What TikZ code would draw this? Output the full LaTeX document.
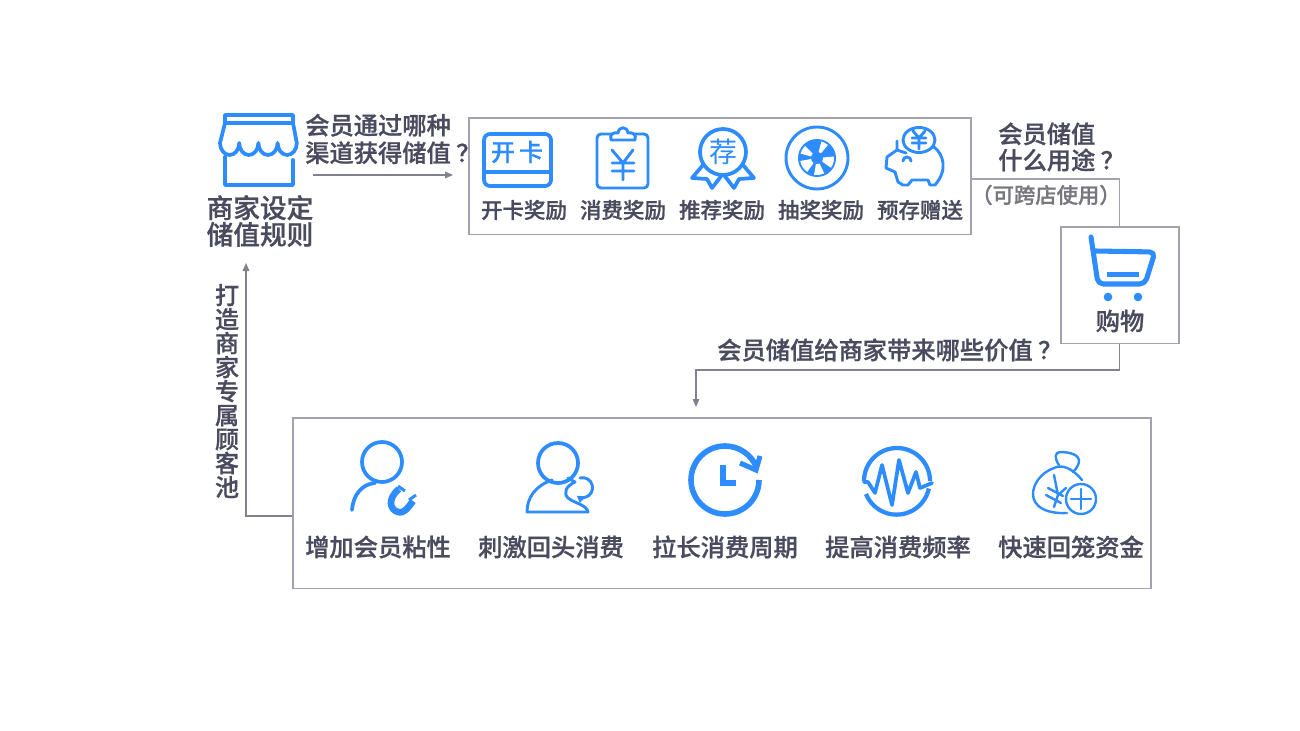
\documentclass[tikz,border=0pt]{standalone}
\usepackage{fontspec}
\setmainfont{Noto Sans CJK SC}[BoldFont={* Medium},BoldFeatures={FakeBold=0.9}]
\usetikzlibrary{arrows.meta}
\definecolor{iconblue}{HTML}{2D8CFF}
\definecolor{labelgrey}{HTML}{4B4B5F}
\definecolor{linegrey}{HTML}{A2A2AE}
\definecolor{notegrey}{HTML}{77777F}
\newcommand{\labelfont}[1]{\fontsize{#1}{#1}\selectfont\bfseries}
\newcommand{\wideq}{\hspace{4pt}\symbol{"FF1F}}
\tikzset{
  framebox/.style={draw=linegrey,line width=1.2pt},
  flow/.style={draw=linegrey,line width=0.9pt},
  flowarrow/.style={flow,draw=labelgrey!70,-{Triangle[length=6pt,width=5pt]}},
  icon/.style={draw=iconblue,line width=2.8pt,line join=round,line cap=round},
  thinicon/.style={icon,line width=2.2pt},
  hairicon/.style={icon,line width=1.8pt},
  smalllabel/.style={text=labelgrey,inner sep=0pt,font=\labelfont{16.1}},
  biglabel/.style={text=labelgrey,inner sep=0pt,font=\labelfont{18.2},align=left}
}
\begin{document}
\begin{tikzpicture}[x=0.75pt,y=-0.75pt]
 \useasboundingbox (0,0) rectangle (1300,731);
 \node (rewardbox) [framebox,minimum width=376.5pt,minimum height=87.5pt,anchor=north west] at (468,117) {};
 \node (cartbox) [framebox,minimum width=88.5pt,minimum height=87.5pt,anchor=north west] at (1060,226) {};
 \node (valuebox) [framebox,minimum width=643.5pt,minimum height=128pt,anchor=north west] at (292,417) {};

 \coordinate (channelstart) at (313,175);
 \coordinate (channelend) at (rewardbox.west |- channelstart);
 \coordinate (usestart) at (rewardbox.east |- 0,179);
 \coordinate (valuetop) at (696,417);
 \coordinate (ruletop) at (246,263);
 \draw [flowarrow] (channelstart) -- ([xshift=-15*0.75pt]channelend);
 \draw [flow] (usestart) -| (cartbox.north);
 \draw [flowarrow] (cartbox.south) |- (696,370) -- ([yshift=7.5pt]valuetop);
 \draw [flowarrow] (valuebox.west |- 0,516) -| (ruletop);

 \node (channeltext) [biglabel,anchor=west] at (305,139) {会员通过哪种\\[2.5pt]渠道获得储值\wideq};
 \node (ruletext) [text=labelgrey,inner sep=0pt,font=\labelfont{20},align=left] at (260,221) {商家设定\\储值规则};
 \node (usetext) [biglabel,anchor=west] at (998,147) {会员储值\\[1.5pt]什么用途\wideq};
 \node (crosstext) [inner sep=0pt,text=notegrey,font=\labelfont{16}] at (1046,195) {\symbol{"FF08}可跨店使用\symbol{"FF09}};
 \node (carttext) [biglabel] at (1120,321) {购物};
 \node (valuetext) [biglabel,anchor=west] at (717,350) {会员储值给商家带来哪些价值\wideq};
 \node (pooltext) [biglabel,align=center,font=\fontsize{18}{18}\selectfont\bfseries] at (227,391) {打\\造\\商\\家\\专\\属\\顾\\客\\池};

 \foreach \name/\xpos/\txt in {card/524/开卡奖励,spend/623/消费奖励,refer/722/推荐奖励,draw/821/抽奖奖励,save/920/预存赠送}
   \node (\name text) [smalllabel] at (\xpos,210) {\txt};
 \foreach \name/\xpos/\txt in {sticky/378/增加会员粘性,return/551/刺激回头消费,cycle/725/拉长消费周期,freq/898/提高消费频率,fund/1071/快速回笼资金}
   \node (\name text) [biglabel] at (\xpos,547) {\txt};

 \draw [icon] (225,115) rectangle (293,123);
 \draw [icon] (225,123) -- (220,143) arc[start angle=180,end angle=0,x radius=9.6,y radius=12]
   arc[start angle=180,end angle=0,x radius=9.6,y radius=12]
   arc[start angle=180,end angle=0,x radius=9.6,y radius=12]
   arc[start angle=180,end angle=0,x radius=9.6,y radius=12] -- (293,123);
 \draw [icon] (225,157) -- (225,185) -- (293,185) -- (293,160);

 \draw [icon,rounded corners=4.5pt] (484,134) rectangle (551,186);
 \draw [icon] (484,172) -- (551,172);
 \node (cardglyph) [text=iconblue,inner sep=0pt,font=\labelfont{18}] at (517,152) {开\hspace{3pt}卡};

 \draw [thinicon,rounded corners=3pt] (611,134) -- (597,134) -- (597,188) -- (648,188) -- (648,134) -- (635,134);
 \draw [thinicon] (611,140) .. controls (609,134) and (614,132) .. (618,133) .. controls (619,126) and (627,126) .. (628,133) .. controls (632,132) and (637,134) .. (635,140) -- cycle;
 \draw [thinicon] (612,150) -- (623,163) -- (633,150) (612,163) -- (634,163) (612,171) -- (634,171) (623,163) -- (623,180);

 \draw [icon] (723,152) circle[radius=23];
 \node (referglyph) [text=iconblue,inner sep=0pt,font=\fontsize{21}{21}\selectfont] at (723,152) {荐};
 \draw [icon] (703,165) -- (692,178) -- (707,179) -- (712,188) -- (722,175);
 \draw [icon] (743,165) -- (754,178) -- (739,179) -- (734,188) -- (724,175);

 \draw [thinicon] (817,158) circle[radius=31];
 \fill [iconblue] (817,158) circle[radius=19];
 \foreach \angstart/\angend in {-5/35,65/100,125/170,195/225,-75/-50}
   \fill [white] (817,158) -- ++(\angstart:17) arc[start angle=\angstart,end angle=\angend,radius=17] -- cycle;
 \fill [iconblue] (817,158) circle[radius=6];

 \draw [thinicon] (897,150) -- (897,141) (906,153) -- (897,150) -- (887,157) -- (886,168) -- (895,172) -- (898,182) -- (903,185) -- (908,185) -- (912,180) -- (928,180) -- (930,185) -- (935,185) .. controls (941,178) and (944,170) .. (943,163) .. controls (942,156) and (939,151) .. (934,147);
 \draw [thinicon,fill=white] (919,140) ellipse[x radius=16,y radius=12.5];
 \draw [thinicon] (913,131) -- (919,138) -- (925,131) (912,138) -- (926,138) (912,143) -- (926,143) (919,138) -- (919,149);
 \draw [thinicon] (903,161) arc[start angle=180,end angle=360,radius=4];

 \draw [icon,line width=3.8pt,rounded corners=4pt] (1091,237) -- (1098,284) -- (1145,284) -- (1155,252) -- (1095,251);
 \fill [iconblue] (1107,272) rectangle (1139,277);
 \fill [iconblue] (1108,297) circle[radius=4.3] (1138,297) circle[radius=4.3];

 \draw [icon] (382,462) circle[radius=20];
 \draw [icon] (375,483) .. controls (362,484) and (353,495) .. (352,510);
 \draw [icon,line width=5pt,line cap=butt] (399,489) .. controls (387,499) and (390,510) .. (398,512) .. controls (405,514) and (409,506) .. (413,501);
 \draw [thinicon,line cap=butt] (398,486) -- (405,491) (409,500) -- (416,495);

 \draw [icon] (558,463) circle[radius=20];
 \draw [thinicon] (552,480) .. controls (535,486) and (527,498) .. (527,512) -- (588,512) .. controls (587,505) and (574,503) .. (568,498) .. controls (563,493) and (566,486) .. (575,482) -- (568,478);
 \draw [thinicon,-{Triangle[length=5pt,width=6pt]}] (580,478) arc[start angle=-105,end angle=125,radius=10];

 \draw [icon,line width=4.2pt,line cap=butt] (759,480) arc[start angle=0,end angle=338,radius=34];
 \draw [icon,line width=3.8pt,line cap=butt,line join=miter] (740,463) -- (756,470) -- (760,456);
 \draw [icon,line width=4.2pt,line cap=butt,line join=miter] (723,465) -- (723,483) -- (736,483);

 \draw [icon,line width=3.2pt,line cap=butt] (930,481) arc[start angle=0,end angle=-180,radius=33];
 \draw [icon,line width=3.2pt,line cap=butt] (866,494) arc[start angle=158,end angle=12,radius=33];
 \draw [icon,line width=2.8pt] (864,482) -- (868,482) -- (875,493) -- (882,465) -- (892,505) -- (899,460) -- (908,493) -- (916,472) -- (920,488) -- (932,483);

 \draw [hairicon] (1059,465) .. controls (1054,458) and (1055,452) .. (1060,452) .. controls (1070,452) and (1080,455) .. (1079,462) .. controls (1078,466) and (1076,469) .. (1073,472);
 \draw [hairicon] (1082,480) .. controls (1072,468) and (1062,464) .. (1054,468) .. controls (1040,473) and (1033,485) .. (1033,494) .. controls (1033,506) and (1045,514) .. (1067,513);
 \draw [hairicon] (1054,475) -- (1058,495) -- (1066,488) (1058,495) -- (1054,507) (1048,488) -- (1063,496) (1046,495) -- (1061,503);
 \draw [hairicon] (1081,499) circle[radius=15];
 \draw [hairicon] (1071,499) -- (1091,499) (1081,489) -- (1081,509);
\end{tikzpicture}
\end{document}
